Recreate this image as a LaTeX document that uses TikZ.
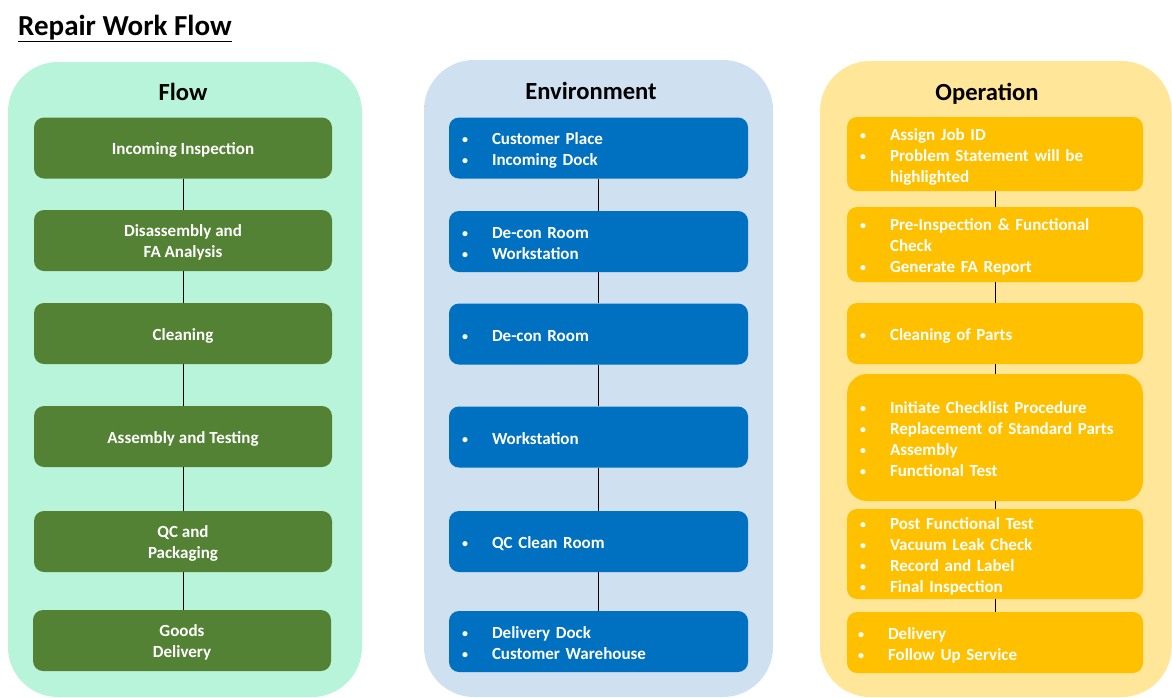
\documentclass[tikz,border=0pt]{standalone}
\usepackage{fontspec}
\setmainfont{Carlito}
\definecolor{mint}{RGB}{184,244,218}
\definecolor{dgreen}{RGB}{84,130,53}
\definecolor{lblue}{RGB}{207,224,241}
\definecolor{dblue}{RGB}{0,112,192}
\definecolor{lyel}{RGB}{255,230,153}
\definecolor{dyel}{RGB}{255,192,0}
\newcommand\bu{\raisebox{1pt}{\fontsize{12}{12}\selectfont\textbullet}}
\newcommand\blist[1]{\raisebox{-3pt}[\height][\depth]{\begin{tabular}{@{}p{30pt}@{}l@{}}#1\end{tabular}}}
\newcommand\glist[1]{\raisebox{-2.5pt}[\height][\depth]{\begin{tabular}{@{}c@{}}#1\end{tabular}}}
\begin{document}
\begin{tikzpicture}[x=1pt,y=-1pt,
  panel/.style={rounded corners=50pt},
  paneltitle/.style={font=\fontsize{24.6}{29}\selectfont\bfseries, text=black, anchor=base, inner sep=0pt},
  box/.style={rounded corners=10pt, minimum height=61pt, text=white,
    font=\fontsize{17}{21}\selectfont\bfseries, inner ysep=0pt},
  gbox/.style={box, fill=dgreen, inner xsep=0pt, minimum width=298pt},
  bbox/.style={box, fill=dblue, inner xsep=13pt, text width=273pt, align=left},
  ybox/.style={box, fill=dyel, inner xsep=13pt, text width=270pt, align=left},
  link/.style={draw=black, line width=0.9pt}
]
\useasboundingbox (0,0) rectangle (1172,697);

% panels
\fill[mint, panel] (8,62) rectangle (362,697);
\fill[lblue, panel] (424,60) rectangle (773,697);
\fill[lyel, panel] (820,61) rectangle (1171.5,697);

% title
\node[anchor=base west, inner sep=0pt, font=\fontsize{29}{34}\selectfont\bfseries] (title) at (18,35) {\underline{Repair Work Flow}};

% panel titles
\node[paneltitle] (tflow) at (183,100) {Flow};
\node[paneltitle] (tenv) at (591,99) {Environment};
\node[paneltitle] (top) at (987,100) {Operation};

% Flow column
\node[gbox] (f1) at (183,148) {\glist{Incoming Inspection}};
\node[gbox] (f2) at (183,240.5) {\glist{Disassembly and\\FA Analysis}};
\node[gbox] (f3) at (183,333.5) {\glist{Cleaning}};
\node[gbox] (f4) at (183,436.5) {\glist{Assembly and Testing}};
\node[gbox] (f5) at (183,541.5) {\glist{QC and\\Packaging}};
\node[gbox] (f6) at (182,640.5) {\glist{Goods\\Delivery}};

% Environment column
\node[bbox] (e1) at (598.5,148) {\blist{\bu & Customer Place\\ \bu & Incoming Dock}};
\node[bbox] (e2) at (598.5,241.5) {\blist{\bu & De-con Room\\ \bu & Workstation}};
\node[bbox] (e3) at (598.5,334) {\blist{\bu & De-con Room}};
\node[bbox] (e4) at (598.5,437) {\blist{\bu & Workstation}};
\node[bbox] (e5) at (598.5,541.5) {\blist{\bu & QC Clean Room}};
\node[bbox] (e6) at (598.5,641.5) {\blist{\bu & Delivery Dock\\ \bu & Customer Warehouse}};

% Operation column
\node[ybox, minimum height=74pt] (o1) at (995,154) {\blist{\bu & Assign Job ID\\ \bu & Problem Statement will be\\ & highlighted}};
\node[ybox, minimum height=75pt] (o2) at (995,244.5) {\blist{\bu & Pre-Inspection \& Functional\\ & Check\\ \bu & Generate FA Report}};
\node[ybox] (o3) at (995,333.5) {\blist{\bu & Cleaning of Parts}};
\node[ybox, minimum height=127pt, rounded corners=20pt] (o4) at (995,437.5) {\blist{\bu & Initiate Checklist Procedure\\ \bu & Replacement of Standard Parts\\ \bu & Assembly\\ \bu & Functional Test}};
\node[ybox, minimum height=90pt] (o5) at (995,554) {\blist{\bu & Post Functional Test\\ \bu & Vacuum Leak Check\\ \bu & Record and Label\\ \bu & Final Inspection}};
\node[ybox, inner xsep=11pt, text width=274pt] (o6) at (995,642.5) {\blist{\bu & Delivery\\ \bu & Follow Up Service}};

% connectors
\foreach \c in {f,e,o}{
  \foreach \a/\b in {1/2,2/3,3/4,4/5,5/6}{
    \draw[link] (\c\a.south) -- (\c\a.south |- \c\b.north);
  }
}
\end{tikzpicture}
\end{document}
